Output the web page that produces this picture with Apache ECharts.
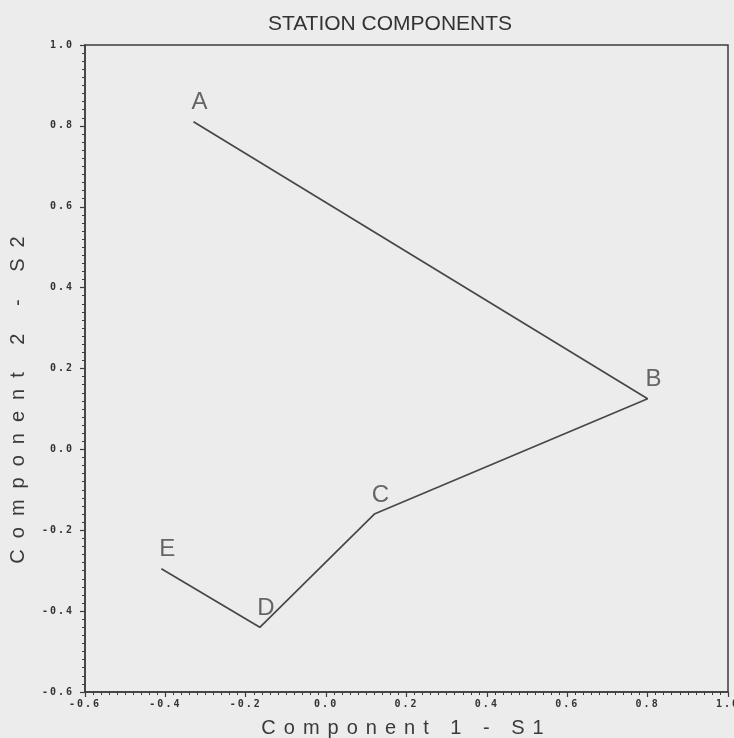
<!DOCTYPE html>
<html>
<head>
<meta charset="utf-8">
<script src="https://cdn.jsdelivr.net/npm/echarts@6/dist/echarts.min.js"></script>
<style>
  html, body { margin: 0; padding: 0; background: #ececec; }
  #chart { width: 734px; height: 738px; }
</style>
</head>
<body>
<div id="chart"></div>
<script>
// ---- data ----
const stations = ['A', 'B', 'C', 'D', 'E'];
const component1 = [-0.33, 0.80, 0.12, -0.165, -0.41];   // S1
const component2 = [0.81, 0.125, -0.16, -0.44, -0.295];  // S2
const axisTicks = [-0.6, -0.4, -0.2, 0.0, 0.2, 0.4, 0.6, 0.8, 1.0];
const chartTitle = 'STATION COMPONENTS';
const xTitle = 'Component 1 - S1';
const yTitle = 'Component 2 - S2';

// letter spacing for the plotter lettering of axis titles and tick labels
const SPACING = {};
SPACING[xTitle] = '8px';
SPACING[yTitle] = '11px';
const _ft = CanvasRenderingContext2D.prototype.fillText;
CanvasRenderingContext2D.prototype.fillText = function (t, x, y, m) {
  let sp = SPACING[t];
  if (!sp && /^-?\d\.\d$/.test(t)) sp = '2px';
  this.letterSpacing = sp || '0px';
  const r = m === undefined ? _ft.call(this, t, x, y) : _ft.call(this, t, x, y, m);
  this.letterSpacing = '0px';
  return r;
};

const pts = stations.map((s, i) => [component1[i], component2[i], s]);

const ink = '#3c3c3c';
const axisCommon = {
  type: 'value',
  min: axisTicks[0],
  max: axisTicks[axisTicks.length - 1],
  interval: 0.2,
  axisLine: { show: true, onZero: false, lineStyle: { color: ink, width: 1.5 } },
  axisTick: { show: true, inside: false, length: 5, lineStyle: { color: ink, width: 1.2 } },
  minorTick: { show: true, splitNumber: 10, length: 3, lineStyle: { color: ink, width: 1 } },
  splitLine: { show: false },
  axisLabel: {
    color: '#333', fontFamily: 'DejaVu Sans Mono', fontSize: 10, fontWeight: 'bold',
    formatter: v => v.toFixed(1)
  },
  nameLocation: 'middle'
};

const chart = echarts.init(document.getElementById('chart'), null, { renderer: 'canvas' });
chart.setOption({
  backgroundColor: '#ececec',
  animation: false,
  title: {
    text: chartTitle,
    left: 385, top: 9, textAlign: 'center',
    textStyle: { fontFamily: 'Liberation Sans', fontSize: 21, fontWeight: 'normal', color: '#333' }
  },
  grid: {
    left: 85, right: 6, top: 45, bottom: 46,
    outerBoundsMode: 'none', containLabel: false,
    show: true, borderColor: ink, borderWidth: 1.5, backgroundColor: 'transparent'
  },
  xAxis: Object.assign({}, axisCommon, {
    name: xTitle, nameGap: 26,
    nameTextStyle: { fontFamily: 'Liberation Sans', fontSize: 20, color: '#3a3a3a' },
    axisLabel: Object.assign({}, axisCommon.axisLabel, { margin: 7 })
  }),
  yAxis: Object.assign({}, axisCommon, {
    name: yTitle, nameGap: 57, nameRotate: 90,
    nameTextStyle: { fontFamily: 'Liberation Sans', fontSize: 20, color: '#3a3a3a', padding: [0, 52, 0, 0] },
    axisLabel: Object.assign({}, axisCommon.axisLabel, { margin: 11 })
  }),
  series: [
    {
      type: 'line',
      data: pts,
      symbol: 'none',
      lineStyle: { color: '#474747', width: 1.7 },
      silent: true
    },
    {
      type: 'scatter',
      data: pts,
      symbolSize: 1,
      itemStyle: { color: 'rgba(0,0,0,0)' },
      label: {
        show: true, position: 'top', distance: 8, offset: [6, 1.5],
        formatter: p => p.data[2],
        fontFamily: 'Liberation Sans', fontSize: 24, color: '#444'
      },
      silent: true
    }
  ]
});
</script>
</body>
</html>
